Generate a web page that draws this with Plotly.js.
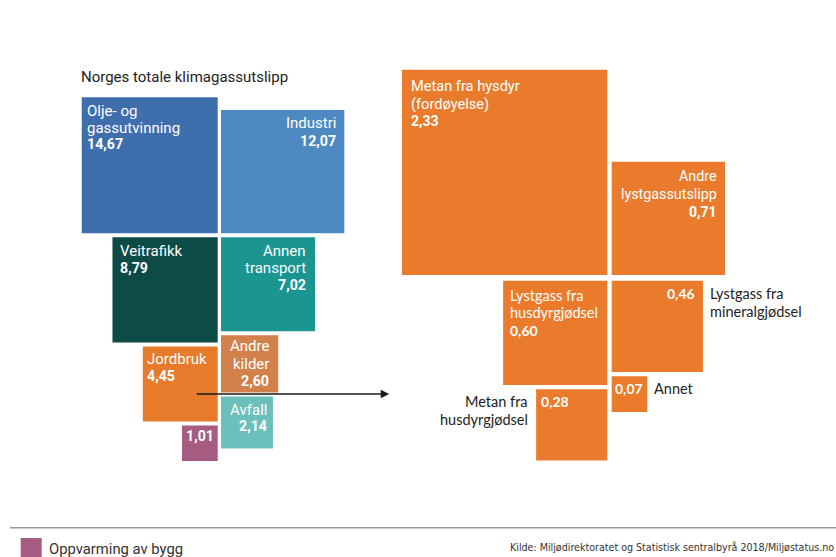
<!DOCTYPE html>
<html><head><meta charset="utf-8">
<script src="https://cdn.plot.ly/plotly-3.0.1.min.js"></script>
<style>html,body{margin:0;padding:0;background:#fff}#c{width:836px;height:557px}</style>
</head><body><div id="c"></div>
<script>
// ---- data ----
const leftNames = [['Olje- og','gassutvinning'],['Industri'],['Veitrafikk'],['Annen','transport'],['Jordbruk'],['Andre','kilder'],['Avfall'],['Oppvarming av bygg']];
const leftValues = [14.67,12.07,8.79,7.02,4.45,2.60,2.14,1.01];
const leftValueLabels = ['14,67','12,07','8,79','7,02','4,45','2,60','2,14','1,01'];

const rightNames = [['Metan fra hysdyr','(fordøyelse)'],['Andre','lystgassutslipp'],['Lystgass fra','husdyrgjødsel'],['Lystgass fra','mineralgjødsel'],['Metan fra','husdyrgjødsel'],['Annet']];
const rightValues = [2.33,0.71,0.60,0.46,0.28,0.07];
const rightValueLabels = ['2,33','0,71','0,60','0,46','0,28','0,07'];

const titleText = 'Norges totale klimagassutslipp';
const legendText = 'Oppvarming av bygg';
const sourceText = 'Kilde: Miljødirektoratet og Statistisk sentralbyrå 2018/Miljøstatus.no';

// ---- styles / layout config ----
const leftColors = ['#3F6EAD','#4E8AC1','#0C4B46','#1B9590','#E77B2B','#D3814C','#6CC0BB','#A65B81'];
const rightColor = '#EA7B2C';
const leftQuads = {tl:[0], tr:[1], bl:[2,4,7], br:[3,5,6]};
const rightQuads = {tl:[0], tr:[1], bl:[2,4], br:[3,5]};
const leftGeom = {cx:219.35, cy:235.3, k:35.5, gx:3.3, gy:4, sg:4};
const rightGeom = {cx:609.5, cy:277.85, k:134.5, gx:4.4, gy:5.7, sg:4.4};

const ROBOTO = 'Roboto, sans-serif', LATO = 'Lato, sans-serif';
const leftLabelCfg = [
  {side:'l', px:4.5, py:14,   lh:16.5, name:true},
  {side:'r', px:7.5, py:13.3, lh:17.3, name:true},
  {side:'l', px:6.5, py:13.4, lh:16.8, name:true},
  {side:'r', px:8,   py:13.4, lh:17.2, name:true},
  {side:'l', px:3.5, py:12,   lh:17.4, name:true},
  {side:'r', px:8.3, py:11,   lh:17.2, name:true},
  {side:'r', px:4.6, py:13.3, lh:16.3, name:true},
  {side:'l', px:2.6, py:10.7, lh:17,   name:false}
];
const rightLabelCfg = [
  {side:'l', px:8,   py:16.7, lh:17.2, name:true,  font:ROBOTO, fs:14.6, vfs:14},
  {side:'r', px:7.3, py:14.3, lh:17.9, name:true,  font:ROBOTO, fs:14.3, vfs:14},
  {side:'l', px:6,   py:14.3, lh:17.9, name:true,  font:LATO, fs:14.5, vfs:14},
  {side:'r', px:6.7, py:12.6, lh:18.4, name:false, out:'r', ox:6.3, font:LATO, fs:14.5, vfs:14},
  {side:'l', px:4.3, py:12.3, lh:18.4, name:false, out:'l', ox:6.7, font:LATO, fs:14.5, vfs:14},
  {side:'l', px:2.6, py:12,   lh:18,   name:false, out:'r', ox:6,   font:LATO, fs:14.5, vfs:14}
];

function layoutSquares(values, quads, g){
  const rects = new Array(values.length);
  const side = v => g.k*Math.sqrt(v);
  quads.tl.forEach(i=>{const s=side(values[i]); rects[i]={x1:g.cx-g.gx/2, x0:g.cx-g.gx/2-s, y1:g.cy-g.gy/2, y0:g.cy-g.gy/2-s};});
  quads.tr.forEach(i=>{const s=side(values[i]); rects[i]={x0:g.cx+g.gx/2, x1:g.cx+g.gx/2+s, y1:g.cy-g.gy/2, y0:g.cy-g.gy/2-s};});
  let t = g.cy+g.gy/2;
  quads.bl.forEach(i=>{const s=side(values[i]); rects[i]={x1:g.cx-g.gx/2, x0:g.cx-g.gx/2-s, y0:t, y1:t+s}; t+=s+g.sg;});
  t = g.cy+g.gy/2;
  quads.br.forEach(i=>{const s=side(values[i]); rects[i]={x0:g.cx+g.gx/2, x1:g.cx+g.gx/2+s, y0:t, y1:t+s}; t+=s+g.sg;});
  return rects;
}

const leftRects = layoutSquares(leftValues, leftQuads, leftGeom);
const rightRects = layoutSquares(rightValues, rightQuads, rightGeom);

const shapes = [];
const annotations = [];
leftRects.forEach((r,i)=>shapes.push({type:'rect',xref:'x',yref:'y',x0:r.x0,x1:r.x1,y0:r.y0,y1:r.y1,fillcolor:leftColors[i],line:{width:0},layer:'below'}));
rightRects.forEach((r,i)=>shapes.push({type:'rect',xref:'x',yref:'y',x0:r.x0,x1:r.x1,y0:r.y0,y1:r.y1,fillcolor:rightColor,line:{width:0},layer:'below'}));

function txt(x,y,text,anchor,font,size,color){
  annotations.push({xref:'x',yref:'y',x:x,y:y,text:text,showarrow:false,xanchor:anchor,yanchor:'middle',
    font:{family:font,size:size,color:color},borderpad:0});
}

function addLabels(rects, names, vlabels, cfgs, defFont, defFs, defVfs){
  rects.forEach((r,i)=>{
    const c = cfgs[i];
    const fs = c.fs||defFs, vfs = c.vfs||defVfs, font = c.font||defFont;
    const lines = c.name ? names[i] : [];
    const x = c.side==='l' ? r.x0 + c.px : r.x1 - c.px;
    const anchor = c.side==='l' ? 'left' : 'right';
    lines.forEach((ln,j)=>txt(x, r.y0 + c.py + j*c.lh, ln, anchor, font, fs, '#ffffff'));
    txt(x, r.y0 + c.py + lines.length*c.lh, '<b>'+vlabels[i]+'</b>', anchor, font, vfs, '#ffffff');
    if(c.out){
      const ox = c.out==='r' ? r.x1 + c.ox : r.x0 - c.ox;
      names[i].forEach((ln,j)=>txt(ox, r.y0 + c.py + j*c.lh, ln, c.out==='r'?'left':'right', font, fs, '#222222'));
    }
  });
}
addLabels(leftRects, leftNames, leftValueLabels, leftLabelCfg, ROBOTO, 15, 14.2);
addLabels(rightRects, rightNames, rightValueLabels, rightLabelCfg, ROBOTO, 14.5, 14);

// title
txt(leftRects[0].x0-1.5, 76.5, titleText, 'left', ROBOTO, 15, '#222222');

// arrow from Jordbruk to the detail group
const jr = leftRects[4];
annotations.push({xref:'x',yref:'y',axref:'x',ayref:'y',
  x:rightRects[4].x0-147, y:(jr.y0+jr.y1)/2+10,
  ax:(jr.x0+jr.x1)/2+15, ay:(jr.y0+jr.y1)/2+10,
  text:'',showarrow:true,arrowhead:2,arrowsize:1.2,arrowwidth:1.4,arrowcolor:'#1a1a1a',standoff:0,startstandoff:0});

// footer rule, legend swatch, source
shapes.push({type:'line',xref:'x',yref:'y',x0:10,x1:836,y0:527.7,y1:527.7,line:{color:'#9a9a9a',width:1.5}});
shapes.push({type:'rect',xref:'x',yref:'y',x0:20.7,x1:41.7,y0:538,y1:560,fillcolor:leftColors[7],line:{width:0}});
txt(47.5, 548.5, legendText, 'left', ROBOTO, 14.8, '#333333');
annotations.push({xref:'paper',yref:'paper',x:0.9985,y:(557-546.5)/557,text:sourceText,showarrow:false,xanchor:'right',yanchor:'middle',
  font:{family:'Liberation Sans Narrow, DejaVu Sans Condensed, sans-serif',size:10.6,color:'#333333'},borderpad:0});

const layout = {
  width:836,height:557,margin:{l:0,r:0,t:0,b:0},
  paper_bgcolor:'#ffffff',plot_bgcolor:'#ffffff',
  xaxis:{range:[0,836],visible:false,fixedrange:true},
  yaxis:{range:[557,0],visible:false,fixedrange:true},
  showlegend:false,shapes:shapes,annotations:annotations
};
Plotly.newPlot('c',[{type:'scatter',x:[],y:[],hoverinfo:'skip'}],layout,{staticPlot:true,displayModeBar:false});
</script></body></html>
